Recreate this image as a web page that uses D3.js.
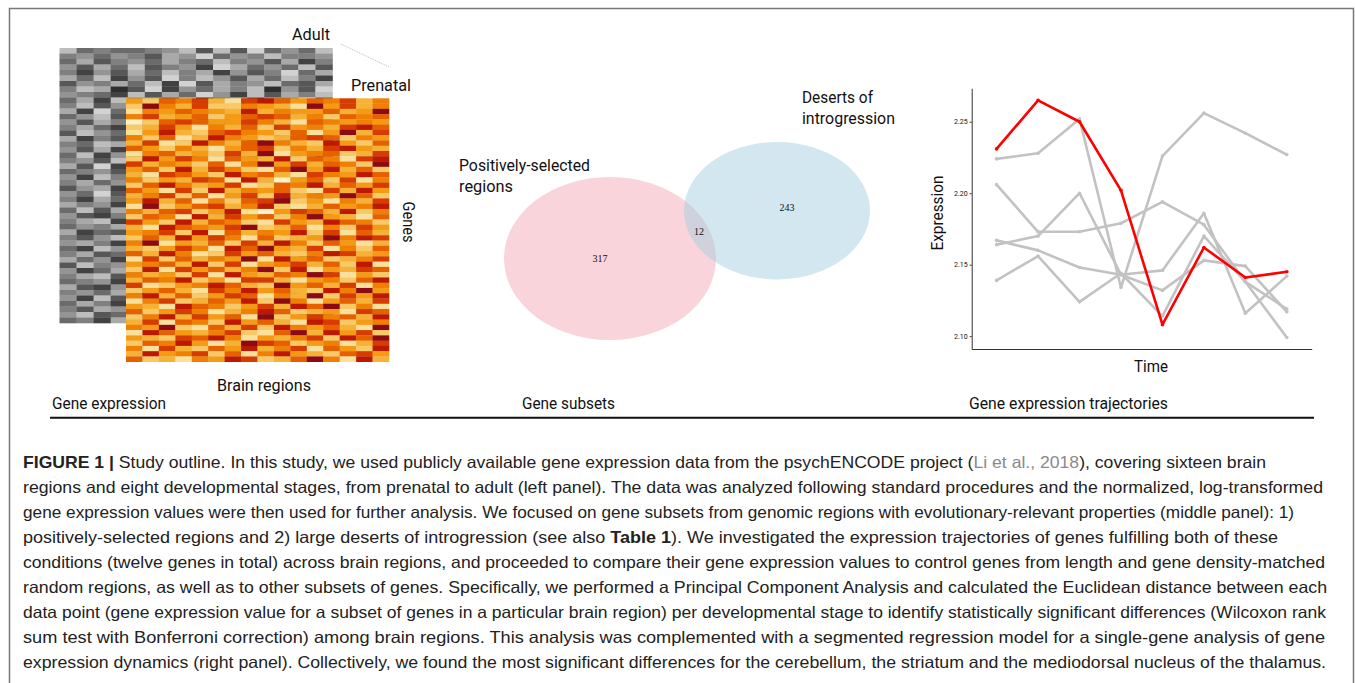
<!DOCTYPE html>
<html>
<head>
<meta charset="utf-8">
<script src="https://cdn.jsdelivr.net/npm/d3@7"></script>
<style>
  body { margin: 0; background: #fff; }
  svg text { font-family: Roboto, "Open Sans", sans-serif; fill: #111; }
</style>
</head>
<body>
<svg id="svg-container"></svg>
<script>
// Heatmap (Prenatal), Stufen 0 (hell) bis 9 (dunkel), 50 Gene x 16 Hirnregionen
var heatRows = [
  "4265731786465735", "2953722543194735", "1546543835446349", "5734624676352656",
  "0267644753165454", "2374153627453786", "1483267542614937", "5261385423676254",
  "3712853695328426", "6425314672537843", "1563427391456237", "2847516438265178",
  "7354261594736529", "4628375216948362", "3176428563175486", "5243761830462715",
  "2685347126583647", "6417283546217384", "3572614728354962", "4836152679241537",
  "1924673582136458", "5367248104763825", "2651837462594316", "7428365217438652",
  "3186547923615274", "4572816354827163", "2638475162349587", "5914362738526413",
  "3247518694371526", "6385127463258734", "1726354918462357", "4563827145736281",
  "2817463592814376", "5342718436597142", "3658241773145268", "7124586329463715",
  "2463175846328594", "5836247615392748", "1572364829514637", "4318652473869251",
  "6247513586234176", "2583746192475638", "3716528463187245", "5492163728546319",
  "1864357216938472", "4327685143572869", "2658413976245137", "5173264835716428",
  "3845726158432674", "6231548723695183"
];

// Heatmap (Adult), Graustufen 0 (hell) bis 9 (dunkel)
var grayRows = [
  "2656654272716462", "5464573416452554", "6375463562547385", "4736275481364627",
  "5847362538475163", "3628471524736258", "7453628173542673", "5239718463529471",
  "4568273614827352", "6382547296384517", "5274638152748364", "3816475263917428",
  "6427385164285736", "4735826197364825", "5368247513826457", "7246583624718364",
  "3857264735492617", "5623847156283746", "4738526473618254", "6284735826473519",
  "5472836147285364", "3718465283746152", "6547382614837265", "4825367482915473",
  "5364728153647286", "7438265374826153", "4617382546392718", "5836472815364827",
  "3548627364718254", "6273854617283645", "4785362845137268", "5328476153846372",
  "6453827364528147", "3867245716384256", "5742638457261834", "4358726183647528",
  "6824735264817365", "5376428157364283", "3648257364825716", "7254836142738564",
  "4863527836417258", "5327846253841736", "6548273618524673", "3784625374268145",
  "5463827156384725", "4827365284736512", "6358247163528437", "5734628457318264",
  "4276835742615387", "6583247361847256"
];

// Verlaeufe ueber 8 Entwicklungsstufen
var timePoints = [1, 2, 3, 4, 5, 6, 7, 8];
var redSeries = [2.231, 2.265, 2.250, 2.202, 2.108, 2.162, 2.141, 2.145];
var graySeries = [
  [2.224, 2.228, 2.252, 2.134, 2.226, 2.256, 2.242, 2.227],
  [2.206, 2.173, 2.173, 2.179, 2.194, 2.178, 2.138, 2.119],
  [2.164, 2.170, 2.200, 2.143, 2.146, 2.186, 2.116, 2.142],
  [2.167, 2.160, 2.148, 2.143, 2.132, 2.153, 2.149, 2.117],
  [2.139, 2.156, 2.124, 2.144, 2.114, 2.170, 2.138, 2.099]
];
var yTicks = [2.10, 2.15, 2.20, 2.25];

// Venn-Diagramm
var vennLabels = [["Positively-selected", "regions"], ["Deserts of", "introgression"]];
var vennCounts = [317, 12, 243];

// Beschriftungen der Panels
var panelTitles = ["Gene expression", "Gene subsets", "Gene expression trajectories"];

// Bildunterschrift, Zeile fuer Zeile (b = fett, g = grau)
var captionLines = [
  [{t: "FIGURE 1 | ", b: true}, {t: "Study outline. In this study, we used publicly available gene expression data from the psychENCODE project ("}, {t: "Li et al., 2018", g: true}, {t: "), covering sixteen brain"}],
  [{t: "regions and eight developmental stages, from prenatal to adult (left panel). The data was analyzed following standard procedures and the normalized, log-transformed"}],
  [{t: "gene expression values were then used for further analysis. We focused on gene subsets from genomic regions with evolutionary-relevant properties (middle panel): 1)"}],
  [{t: "positively-selected regions and 2) large deserts of introgression (see also "}, {t: "Table 1", b: true}, {t: "). We investigated the expression trajectories of genes fulfilling both of these"}],
  [{t: "conditions (twelve genes in total) across brain regions, and proceeded to compare their gene expression values to control genes from length and gene density-matched"}],
  [{t: "random regions, as well as to other subsets of genes. Specifically, we performed a Principal Component Analysis and calculated the Euclidean distance between each"}],
  [{t: "data point (gene expression value for a subset of genes in a particular brain region) per developmental stage to identify statistically significant differences (Wilcoxon rank"}],
  [{t: "sum test with Bonferroni correction) among brain regions. This analysis was complemented with a segmented regression model for a single-gene analysis of gene"}],
  [{t: "expression dynamics (right panel). Collectively, we found the most significant differences for the cerebellum, the striatum and the mediodorsal nucleus of the thalamus."}]
];

// SVG-Container erstellen
var svg = d3.select('#svg-container')
  .attr('width', 1355)
  .attr('height', 683);

// Hilfsfunktion: schmale Beschriftung (Breite wie im Original)
function label(x, y, txt, w, anchor, transform) {
  var t = svg.append('text')
    .attr('text-anchor', anchor || 'start')
    .attr('textLength', w)
    .attr('lengthAdjust', 'spacingAndGlyphs')
    .style('font-size', '17px')
    .text(txt);
  if (transform) {
    t.attr('transform', transform).attr('dy', '0.35em');
  } else {
    t.attr('x', x).attr('y', y);
  }
  return t;
}

// Rahmen
svg.append('rect')
  .attr('x', 9.5).attr('y', 8.5)
  .attr('width', 1344).attr('height', 690)
  .attr('fill', 'none')
  .attr('stroke', '#777')
  .attr('stroke-width', 1.5);

// ---------- Linkes Panel: Heatmaps ----------
var heatColor = d3.scaleLinear()
  .domain([0, 1, 2, 3, 4, 5, 6, 7, 8, 9])
  .range(['#fff3c6', '#fbe09c', '#f8c966', '#f6b236', '#f49a14', '#ef8004', '#e66000', '#d63c00', '#bd1800', '#8c0a14']);
var grayColor = d3.scaleLinear().domain([0, 9]).range(['#e6e6e6', '#2e2e2e']);

function drawHeat(rows, x0, x1, y0, y1, color) {
  var xs = d3.scaleBand().domain(d3.range(16)).range([x0, x1]);
  var ys = d3.scaleBand().domain(d3.range(rows.length)).range([y0, y1]);
  var g = svg.append('g');
  rows.forEach(function(row, r) {
    g.selectAll(null)
      .data(row.split('').map(Number))
      .enter().append('rect')
      .attr('x', function(d, c) { return xs(c); })
      .attr('y', ys(r))
      .attr('width', xs.bandwidth() + 0.3)
      .attr('height', ys.bandwidth() + 0.3)
      .attr('fill', function(d) { return color(d); });
  });
}
drawHeat(grayRows, 59.5, 332.5, 48, 323, grayColor);
drawHeat(heatRows, 126, 389, 98.3, 361.7, heatColor);

svg.append('line')
  .attr('x1', 341).attr('y1', 44).attr('x2', 389).attr('y2', 67)
  .attr('stroke', '#bbb').attr('stroke-width', 1).attr('stroke-dasharray', '1,1');

label(292, 40, 'Adult', 38);
label(351, 91, 'Prenatal', 60);
label(0, 0, 'Genes', 41, 'middle', 'translate(409,222) rotate(90)');
label(264, 391, 'Brain regions', 94, 'middle');

// ---------- Mittleres Panel: Venn ----------
svg.append('ellipse')
  .attr('cx', 610).attr('cy', 258.5).attr('rx', 106).attr('ry', 81.5)
  .attr('fill', '#f4a9b8').attr('fill-opacity', 0.5);
svg.append('ellipse')
  .attr('cx', 777).attr('cy', 210.7).attr('rx', 93).attr('ry', 68.7)
  .attr('fill', '#a6d0e0').attr('fill-opacity', 0.5);

var countPos = [[600, 262], [699, 235], [787, 211]];
svg.selectAll('.count')
  .data(vennCounts)
  .enter().append('text')
  .attr('class', 'count')
  .attr('x', function(d, i) { return countPos[i][0]; })
  .attr('y', function(d, i) { return countPos[i][1]; })
  .attr('text-anchor', 'middle')
  .style('font-family', '"Liberation Serif", serif')
  .style('font-size', '10px')
  .text(function(d) { return d; });

var labelPos = [[459, 171], [802, 103]];
var labelW = [[131, 54], [71, 93]];
vennLabels.forEach(function(lines, i) {
  lines.forEach(function(s, j) {
    label(labelPos[i][0], labelPos[i][1] + j * 21, s, labelW[i][j]);
  });
});

// ---------- Rechtes Panel: Verlaeufe ----------
var x = d3.scalePoint().domain(timePoints).range([971.7, 1311.7]).padding(0.6);
var y = d3.scaleLinear().domain([2.091, 2.2734]).range([349, 88.3]);

svg.append('g')
  .attr('transform', 'translate(971.7,0)')
  .call(d3.axisLeft(y).tickValues(yTicks).tickFormat(d3.format('.2f')).tickSize(2).tickSizeOuter(0))
  .call(function(g) {
    g.select('.domain').attr('stroke', '#333');
    g.selectAll('.tick line').attr('stroke', '#333');
    g.selectAll('.tick text').attr('fill', '#444').style('font-size', '7px').attr('x', -4);
  });
svg.append('g')
  .attr('transform', 'translate(0,349)')
  .call(d3.axisBottom(x).tickValues([]).tickSizeOuter(0))
  .call(function(g) { g.select('.domain').attr('stroke', '#333'); });

var line = d3.line()
  .x(function(d, i) { return x(timePoints[i]); })
  .y(function(d) { return y(d); });

var allSeries = graySeries.map(function(s) { return {v: s, c: '#c2c2c2'}; })
  .concat([{v: redSeries, c: '#ff0000'}]);

allSeries.forEach(function(s) {
  svg.append('path')
    .attr('d', line(s.v))
    .attr('fill', 'none')
    .attr('stroke', s.c)
    .attr('stroke-width', 2.6)
    .attr('stroke-linejoin', 'round');
  svg.selectAll(null)
    .data(s.v)
    .enter().append('circle')
    .attr('cx', function(d, i) { return x(timePoints[i]); })
    .attr('cy', function(d) { return y(d); })
    .attr('r', 1.8)
    .attr('fill', s.c);
});

label(0, 0, 'Expression', 75, 'middle', 'translate(937,213) rotate(-90)');
label(1151, 372, 'Time', 34, 'middle');

// ---------- Panel-Titel und Trennlinie ----------
var titleX = [52, 522, 969];
var titleW = [114, 93, 199];
panelTitles.forEach(function(d, i) {
  label(titleX[i], 409, d, titleW[i]);
});

svg.append('line')
  .attr('x1', 50).attr('x2', 1314)
  .attr('y1', 417.7).attr('y2', 417.7)
  .attr('stroke', '#111').attr('stroke-width', 2);

// ---------- Bildunterschrift ----------
var lineWidths = [1243, 1300, 1271, 1255, 1302, 1304, 1303, 1302, 1303];
captionLines.forEach(function(runs, i) {
  var t = svg.append('text')
    .attr('x', 23)
    .attr('y', 468 + i * 25)
    .attr('textLength', lineWidths[i])
    .attr('lengthAdjust', 'spacingAndGlyphs')
    .style('font-family', '"Liberation Sans Narrow", "Liberation Sans", Arial, sans-serif')
    .style('font-size', '16.5px');
  runs.forEach(function(r) {
    t.append('tspan')
      .style('font-weight', r.b ? 'bold' : 'normal')
      .attr('fill', r.g ? '#8a8a8a' : '#222')
      .text(r.t);
  });
});
</script>
</body>
</html>
